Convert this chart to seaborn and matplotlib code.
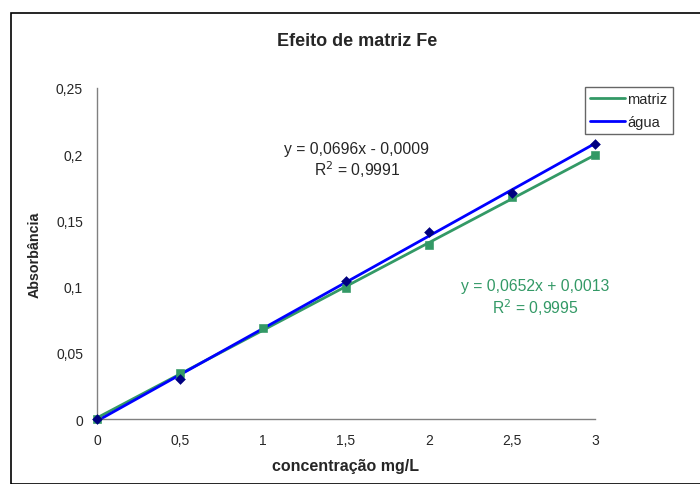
import numpy as np
import matplotlib
matplotlib.use('Agg')
import matplotlib.pyplot as plt
import seaborn as sns
from matplotlib.patches import Rectangle

# dados
x_matriz = [0, 0.5, 1, 1.5, 2, 2.5, 3]
y_matriz = [0.0, 0.0345, 0.069, 0.099, 0.1317, 0.1675, 0.1993]
x_agua = [0, 0.5, 1.5, 2, 2.5, 3]
y_agua = [0.0, 0.030, 0.1045, 0.1415, 0.171, 0.2077]

x_ticks = [0, 0.5, 1, 1.5, 2, 2.5, 3]
y_ticks = [0, 0.05, 0.1, 0.15, 0.2, 0.25]

verde = '#339966'
azul = '#0000FF'
marinho = '#000080'

sns.set_style('white')
plt.rcParams['font.family'] = ['Liberation Sans', 'DejaVu Sans']

fig = plt.figure(figsize=(7, 4.85), dpi=100)
ax = fig.add_axes([97/700, 1 - 420/485, (595 - 97)/700, (420 - 89)/485])

# borda externa do gráfico
fig.patches.append(Rectangle((11/700, 0), 1, 1 - 14/485, transform=fig.transFigure,
                             fill=False, edgecolor='black', linewidth=1.2, clip_on=False))

# linhas de tendência
xx = np.array([0, 3])
a_m, b_m = np.polyfit(x_matriz, y_matriz, 1)
a_a, b_a = np.polyfit(x_agua, y_agua, 1)
sns.lineplot(x=xx, y=a_m * xx + b_m, color=verde, linewidth=2, ax=ax, label='matriz')
sns.lineplot(x=xx, y=a_a * xx + b_a, color=azul, linewidth=2, ax=ax, label='água')

sns.scatterplot(x=x_matriz, y=y_matriz, marker='s', color=verde, s=30, edgecolor=verde,
                ax=ax, zorder=3, clip_on=False)
sns.scatterplot(x=x_agua, y=y_agua, marker='D', color=marinho, s=25, edgecolor=marinho,
                ax=ax, zorder=3, clip_on=False)

ax.set_xlim(0, 3)
ax.set_ylim(0, 0.25)
ax.set_xticks(x_ticks)
ax.set_yticks(y_ticks)
fmt = lambda v: ('%g' % v).replace('.', ',')
ax.set_xticklabels([fmt(v) for v in x_ticks], fontsize=10)
ax.set_yticklabels([fmt(v) for v in y_ticks], fontsize=10)
ax.tick_params(axis='both', direction='out', length=4, width=1, color='#808080', pad=6)

for s in ['top', 'right']:
    ax.spines[s].set_visible(False)
for s in ['left', 'bottom']:
    ax.spines[s].set_color('#808080')
    ax.spines[s].set_linewidth(1)

ax.set_xlabel('concentração mg/L', fontsize=11.5, fontweight='bold', labelpad=8)
ax.set_ylabel('Absorbância', fontsize=10.3, fontweight='bold', labelpad=10)
fig.text(357/700, 1 - 42/485, 'Efeito de matriz Fe', ha='center', va='center',
         fontsize=13, fontweight='bold')

ax.text(1.566, 0.2045, 'y = 0,0696x - 0,0009', ha='center', va='center', fontsize=11.3)
ax.text(1.566, 0.189, 'R$^2$ = 0,9991', ha='center', va='center', fontsize=11.3)
ax.text(2.64, 0.1005, 'y = 0,0652x + 0,0013', ha='center', va='center', fontsize=11.3, color=verde)
ax.text(2.64, 0.0845, 'R$^2$ = 0,9995', ha='center', va='center', fontsize=11.3, color=verde)

leg = ax.legend(loc='upper left', bbox_to_anchor=(585/700, 1 - 88/485), bbox_transform=fig.transFigure,
                frameon=True, fancybox=False, fontsize=10.5, handlelength=2.4, handletextpad=0.15,
                borderpad=0.35, labelspacing=0.6, borderaxespad=0)
leg.get_frame().set_edgecolor('#404040')
leg.get_frame().set_linewidth(1)

fig.savefig('out.png', dpi=100)
